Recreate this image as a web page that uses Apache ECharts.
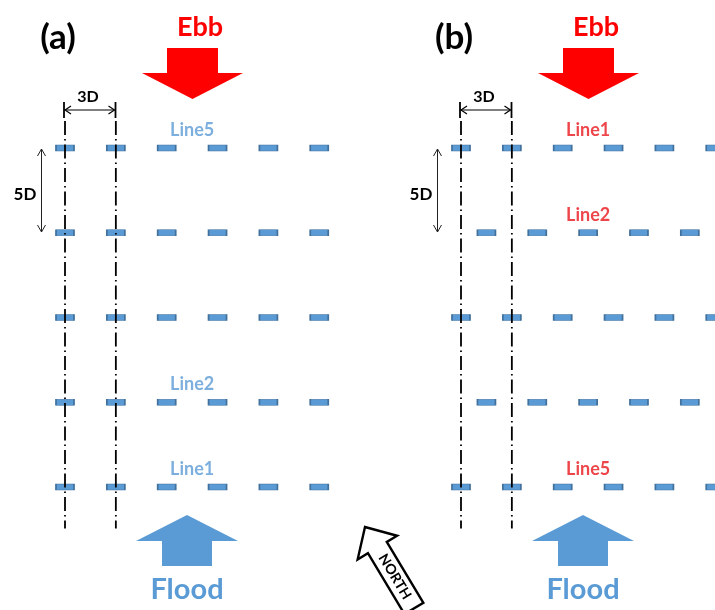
<!DOCTYPE html>
<html><head><meta charset="utf-8">
<script src="https://cdn.jsdelivr.net/npm/echarts@6/dist/echarts.min.js"></script>
<style>html,body{margin:0;padding:0;background:#fff}#c{width:715px;height:610px}</style>
</head><body><div id="c"></div>
<script>
// ---- data (turbine layout in rotor diameters D) ----
const columnsD = [0, 3, 6, 9, 12, 15];
const rowsD = [0, 5, 10, 15, 20];
const rowShiftA = [0, 0, 0, 0, 0];
const rowShiftB = [0, 1.5, 0, 1.5, 0];
const rowLabelsA = ['Line5', '', '', 'Line2', 'Line1'];
const rowLabelsB = ['Line1', 'Line2', '', '', 'Line5'];
const refColumnsD = [0, 3];
const refLineSpanD = [-1.6, 22.45];
const labelColumnD = 7.5;
const panelTitles = ['(a)', '(b)'];
const flowLabels = ['Ebb', 'Flood'];
const spacingLabels = ['3D', '5D'];
const northLabel = 'NORTH';

const BLUE = '#5b9bd5', RED = '#ff0000', LRED = '#e8161b';
const FONT = 'Lato, "Open Sans", sans-serif';
const PX_PER_D = 16.95;

function turbines(shift) {
  const out = [];
  rowsD.forEach((y, i) => columnsD.forEach(x => out.push([x + shift[i], y])));
  return out;
}
function rowLabels(labels) {
  const out = [];
  rowsD.forEach((y, i) => { if (labels[i]) out.push({ value: [labelColumnD, y], name: labels[i] }); });
  return out;
}

const panels = [
  { dx: 0, shift: rowShiftA, labels: rowLabelsA, labelColor: BLUE, title: panelTitles[0] },
  { dx: 396, shift: rowShiftB, labels: rowLabelsB, labelColor: LRED, title: panelTitles[1] }
];

const series = [];
panels.forEach((p, k) => {
  series.push({
    type: 'scatter', xAxisIndex: k, yAxisIndex: k, z: 2, clip: false,
    symbol: 'rect', symbolSize: [18, 6],
    itemStyle: { color: BLUE, borderColor: '#41719c', borderWidth: 1, opacity: 1 },
    data: turbines(p.shift), silent: true
  });
  refColumnsD.forEach(x => {
    series.push({
      type: 'line', xAxisIndex: k, yAxisIndex: k, z: 3, symbol: 'none', silent: true, clip: false,
      lineStyle: { color: '#000', width: 1.8, type: [14, 4, 1.5, 4] },
      data: [[x, refLineSpanD[0]], [x, refLineSpanD[1]]]
    });
  });
  series.push({
    type: 'scatter', xAxisIndex: k, yAxisIndex: k, z: 4, symbolSize: 0, silent: true, clip: false,
    data: rowLabels(p.labels),
    label: { show: true, position: 'inside', offset: [0, -18], formatter: '{b}',
      color: p.labelColor, fontFamily: FONT, fontWeight: 'bold', fontSize: 18 }
  });
});

function txt(x, y, text, size, fill) {
  return { type: 'text', x: x, y: y, z: 10, style: { text: text, font: 'bold ' + size + 'px ' + FONT,
    fill: fill, align: 'center', verticalAlign: 'middle', textAlign: 'center', textVerticalAlign: 'middle' } };
}
function seg(pts, w, color) {
  return { type: 'polyline', z: 10, shape: { points: pts }, style: { stroke: color, lineWidth: w, fill: null } };
}
function poly(pts, fill) {
  return { type: 'polygon', z: 10, shape: { points: pts }, style: { fill: fill } };
}
function panelGraphics(dx, title) {
  const g = [];
  g.push(txt(58 + dx, 38, title, 35, '#000'));
  g.push(txt(200 + dx, 27, flowLabels[0], 27, RED));
  g.push(poly([[167 + dx, 48], [218 + dx, 48], [218 + dx, 73], [243 + dx, 73], [192.5 + dx, 99], [142 + dx, 73], [167 + dx, 73]], RED));
  g.push(poly([[187 + dx, 515], [238 + dx, 541], [212 + dx, 541], [212 + dx, 566], [162 + dx, 566], [162 + dx, 541], [136 + dx, 541]], BLUE));
  g.push(txt(187 + dx, 590, flowLabels[1], 29, BLUE));
  // 3D dimension
  g.push(seg([[64 + dx, 102], [64 + dx, 118]], 1.8, '#000'));
  g.push(seg([[115.5 + dx, 102], [115.5 + dx, 118]], 1.8, '#000'));
  g.push(seg([[65 + dx, 110], [114.5 + dx, 110]], 1.2, '#000'));
  g.push(seg([[71 + dx, 106], [65 + dx, 110], [71 + dx, 114]], 1.2, '#000'));
  g.push(seg([[108.5 + dx, 106], [114.5 + dx, 110], [108.5 + dx, 114]], 1.2, '#000'));
  g.push(txt(88 + dx, 97, spacingLabels[0], 16, '#000'));
  // 5D dimension
  const ax = 41.5 + dx;
  g.push(seg([[ax, 149], [ax, 232]], 1, '#222'));
  g.push(seg([[ax - 4, 156], [ax, 149], [ax + 4, 156]], 1, '#222'));
  g.push(seg([[ax - 4, 225], [ax, 232], [ax + 4, 225]], 1, '#222'));
  g.push(txt(25 + dx, 195, spacingLabels[1], 17, '#000'));
  return g;
}

let graphics = [];
panels.forEach(p => { graphics = graphics.concat(panelGraphics(p.dx, p.title)); });
graphics.push({
  type: 'group', x: 365, y: 527, rotation: 31 * Math.PI / 180, z: 10,
  children: [
    { type: 'polygon', shape: { points: [[0, 0], [23, 24], [11, 24], [11, 95], [-11, 95], [-11, 24], [-23, 24]] },
      style: { fill: '#fff', stroke: '#000', lineWidth: 2.4, lineJoin: 'miter' } },
    { type: 'text', x: 0, y: 58, rotation: -Math.PI / 2,
      style: { text: northLabel, font: 'bold 14px ' + FONT, fill: '#000', align: 'center', verticalAlign: 'middle',
        textAlign: 'center', textVerticalAlign: 'middle' } }
  ]
});

// grids: both panels use the same D scale; col 0 of (a) at x=65px, of (b) at x=461px
const gridTop = 148 - 8 * PX_PER_D;
const gridH = 35 * PX_PER_D;
const leftA = 65 - 3 * PX_PER_D, leftB = 461 - 3 * PX_PER_D;
const wA = 21 * PX_PER_D, wB = 715 - leftB;
const chart = echarts.init(document.getElementById('c'));
chart.setOption({
  animation: false,
  backgroundColor: '#fff',
  grid: [
    { left: leftA, top: gridTop, width: wA, height: gridH, outerBoundsMode: 'none' },
    { left: leftB, top: gridTop, width: wB, height: gridH, outerBoundsMode: 'none' }
  ],
  xAxis: [
    { gridIndex: 0, type: 'value', min: -3, max: 18, show: false },
    { gridIndex: 1, type: 'value', min: -3, max: -3 + wB / PX_PER_D, show: false }
  ],
  yAxis: [0, 1].map(i => ({ gridIndex: i, type: 'value', min: -8, max: 27, inverse: true, show: false })),
  series: series,
  graphic: graphics
});
</script></body></html>
